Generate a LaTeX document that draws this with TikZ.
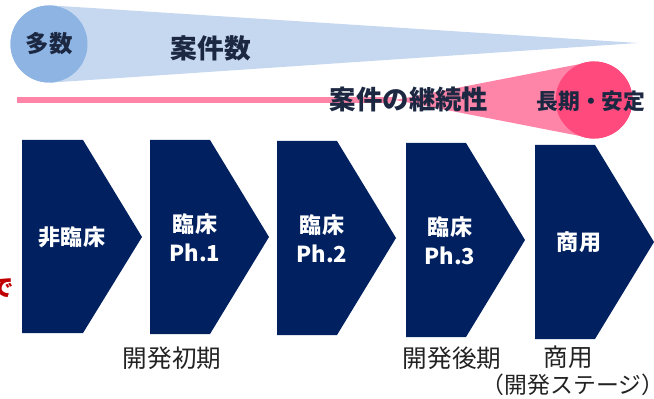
\documentclass[tikz,border=0pt]{standalone}
\usepackage{fontspec}
\usepackage{tikz}
\usepackage{xcolor}
\setmainfont{Noto Sans CJK JP}
\usetikzlibrary{
    positioning,
    calc
}
\definecolor{NavyStage}{RGB}{0,32,96}
\definecolor{WedgeBlue}{RGB}{198,216,240}
\definecolor{DotBlue}{RGB}{142,180,227}
\definecolor{WedgePink}{RGB}{255,133,168}
\definecolor{DotPink}{RGB}{255,74,125}
\definecolor{InkNavy}{RGB}{28,40,66}
\definecolor{StageGray}{RGB}{34,34,34}
\definecolor{AlertRed}{RGB}{192,0,0}
\tikzset{
  chev/.style     = {fill=NavyStage},
  phaselbl/.style = {text=white, font=\fontsize{18.8}{25}\selectfont\bfseries,
                     align=center, inner sep=0pt},
  stagelbl/.style = {text=StageGray, font=\fontsize{21}{24}\selectfont,
                     align=center, inner sep=0pt},
  toplbl/.style   = {text=InkNavy, inner sep=0pt}
}

\begin{document}
\begin{tikzpicture}[
    x=0.03cm, y=-0.03cm,
    dot/.style={circle, inner sep=0pt, minimum size=2.31cm}
]
\useasboundingbox (0,0) rectangle (654,399);
\clip (0,0) rectangle (654,399);

% case count (narrowing)
\node[dot, fill=DotBlue] (many) at (49,44) {};
\fill[WedgeBlue] (many.north) -- (638,43) -- (many.south) -- cycle;
\node[dot, fill=DotBlue] (many) at (49,44) {};
\node[toplbl, font=\fontsize{20}{24}\selectfont\bfseries] (manyt) at (many) {多数};
\node[toplbl, font=\fontsize{22.8}{26}\selectfont\bfseries] (countt) at (211,48) {案件数};

% continuity (widening)
\node[dot, fill=DotPink] (stable) at (594,100) {};
\coordinate (lineL) at (17,100);
\coordinate (tipP) at (395,100);
\draw[WedgePink, line width=0.19cm] (lineL) -- (tipP);
\fill[WedgePink] (tipP) -- (stable.north) -- (stable.south) -- cycle;
\node[dot, fill=DotPink] (stable) at (594,100) {};
\node[toplbl, font=\fontsize{18.6}{22}\selectfont\bfseries] (stablet) at (591,101) {長期・安定};
\node[toplbl, font=\fontsize{22.5}{26}\selectfont\bfseries] (contt) at (409,99) {案件の継続性};

% stages
\fill[chev] (22,140) -- (83,140) -- (142,237) -- (83,333) -- (22,333) -- cycle;
\fill[chev] (150,140) -- (210,140) -- (269,237) -- (210,334) -- (150,334) -- cycle;
\fill[chev] (277,141) -- (337,141) -- (396,238) -- (337,335) -- (277,335) -- cycle;
\fill[chev] (406,143) -- (466,143) -- (525,240) -- (466,337) -- (406,337) -- cycle;
\fill[chev] (535,145) -- (595,145) -- (654,242) -- (595,339) -- (535,339) -- cycle;
\node[phaselbl] (s1) at (72,237) {非臨床};
\node[phaselbl] (s2) at (195,238) {臨床\\Ph.1};
\node[phaselbl] (s3) at (322,239) {臨床\\Ph.2};
\node[phaselbl] (s4) at (450,241) {臨床\\Ph.3};
\node[phaselbl] (s5) at (579,242) {商用};

% red cut-off text
\node[text=AlertRed, font=\fontsize{20}{24}\selectfont\bfseries, anchor=east, inner sep=0pt] (cut) at (14,288) {で};

% bottom labels
\node[stagelbl] (early) at (172,358) {開発初期};
\node[stagelbl] (late) at (452,358) {開発後期};
\node[stagelbl] (comm) at (568,357) {商用};
\node[stagelbl, font=\fontsize{19.5}{24}\selectfont\addfontfeature{RawFeature=+halt}, anchor=east] (axis) at (653,385) {（開発ステージ）};
\end{tikzpicture}
\end{document}
